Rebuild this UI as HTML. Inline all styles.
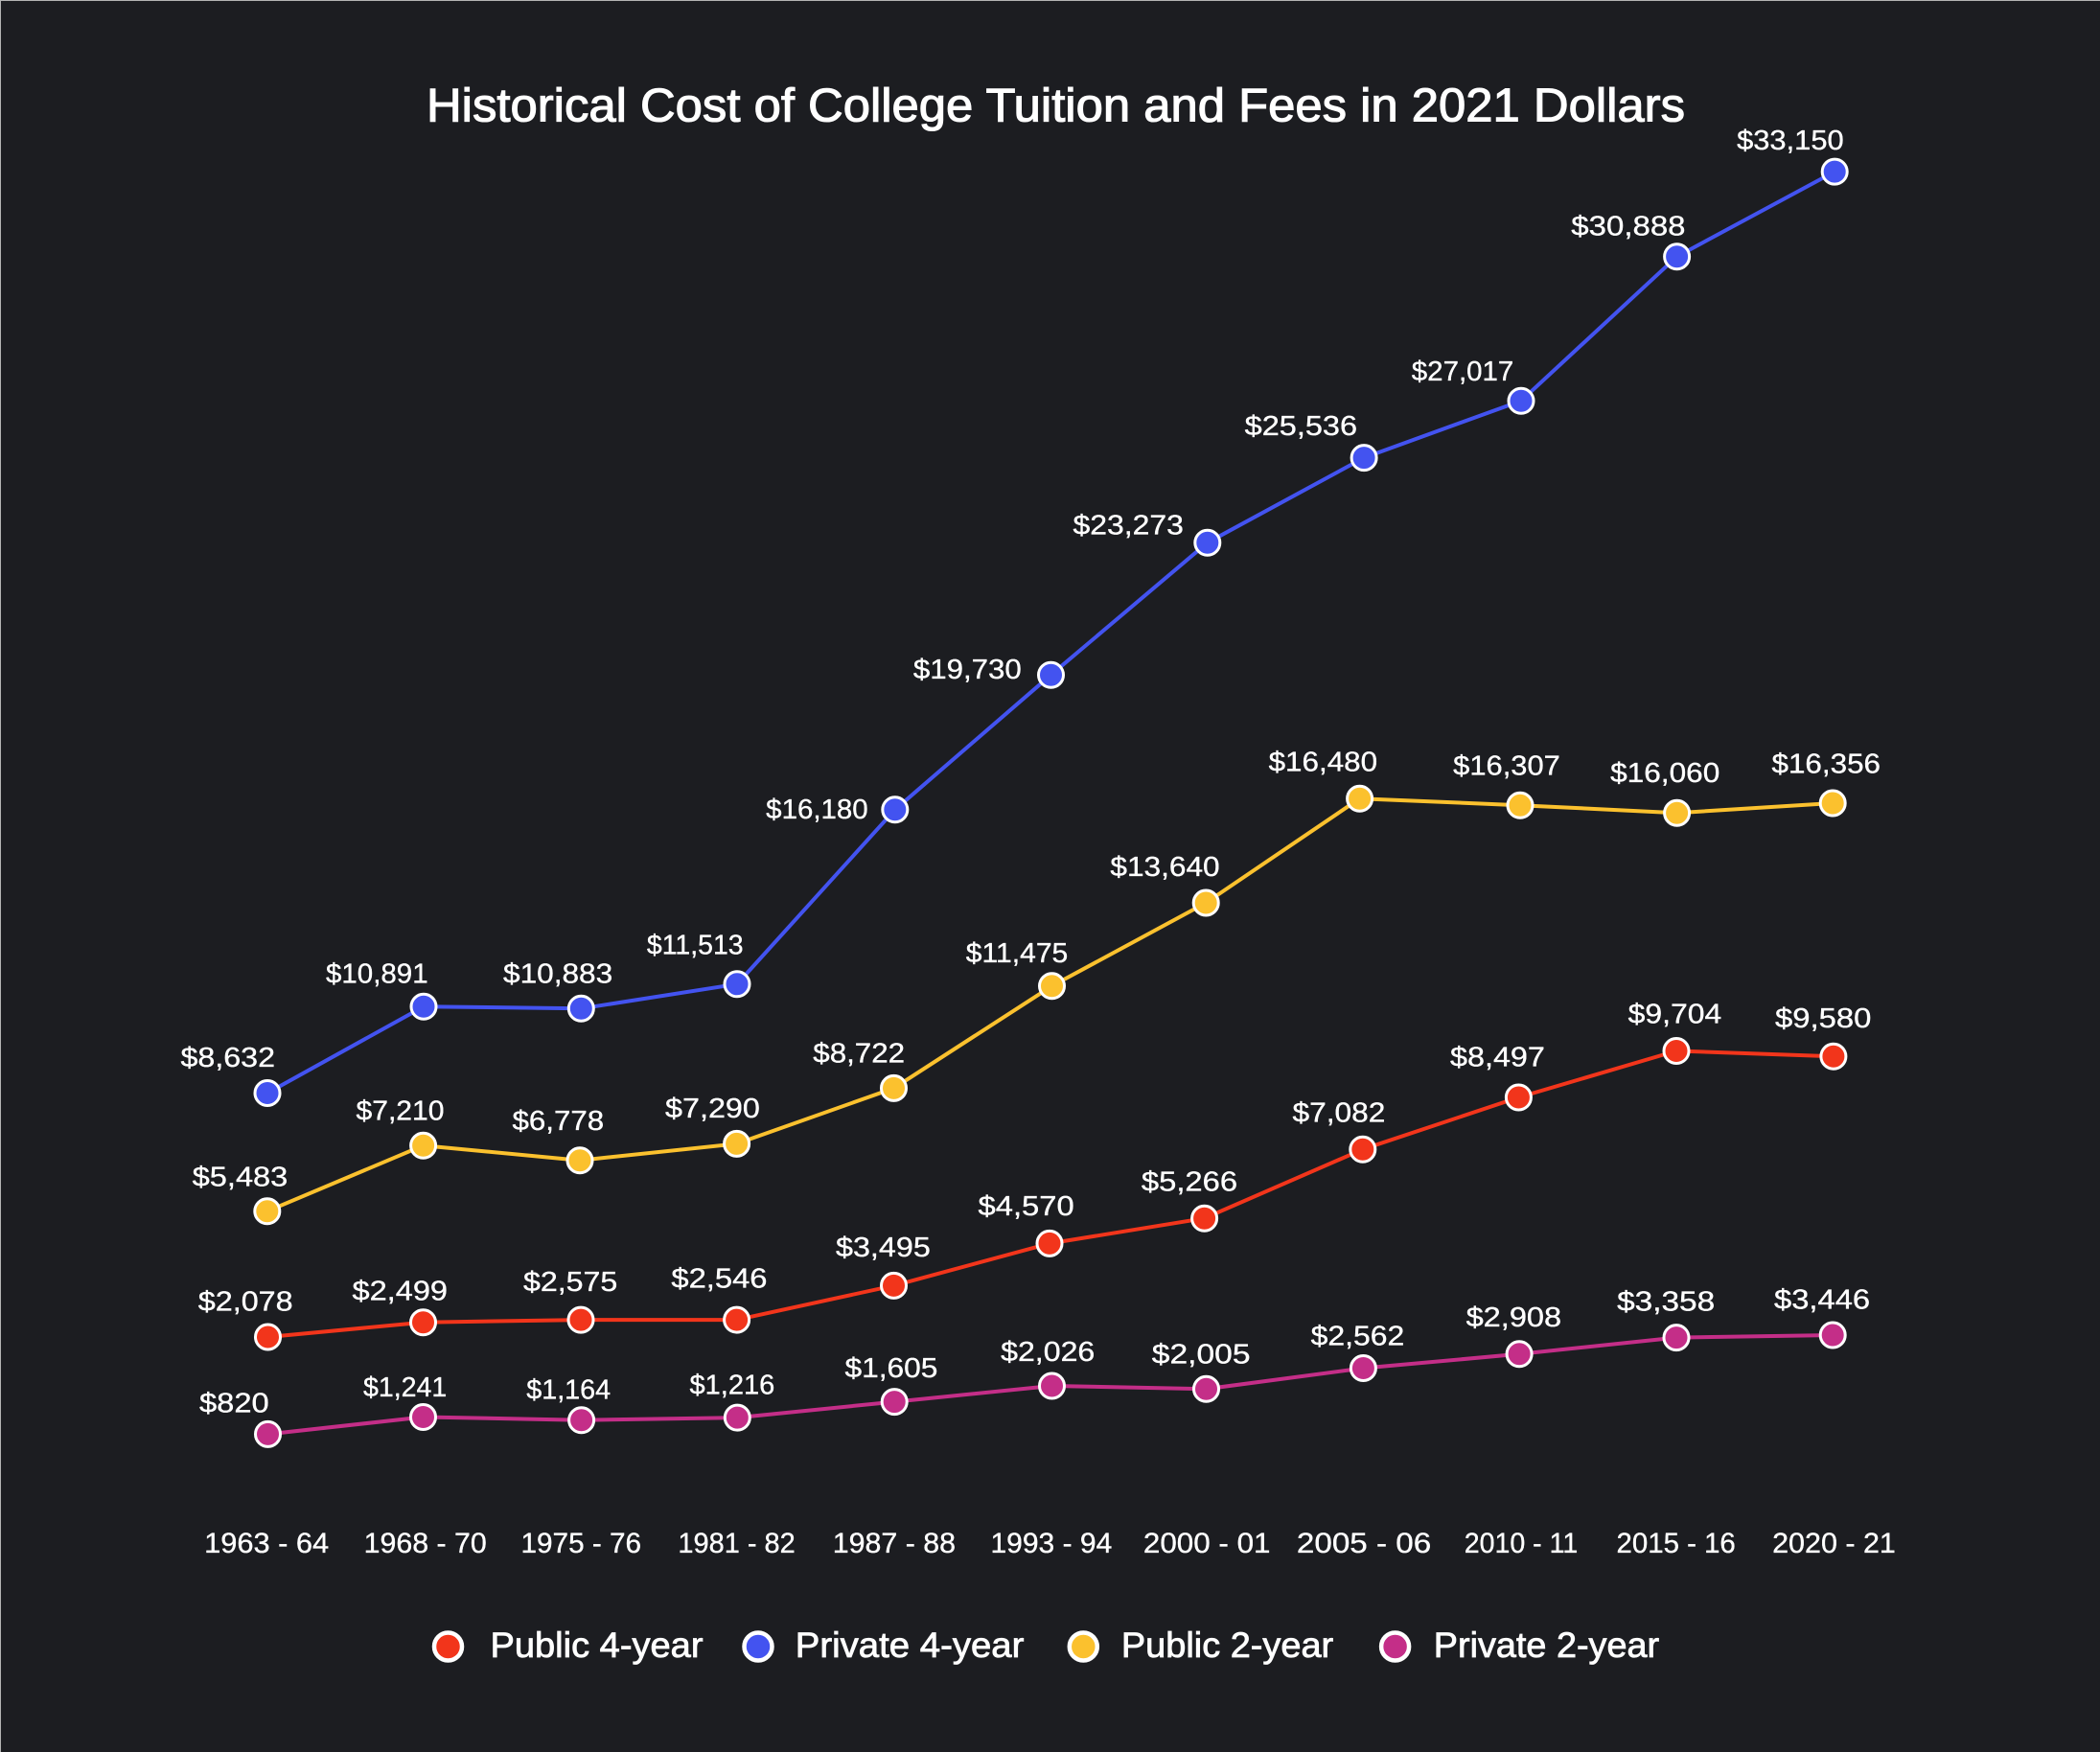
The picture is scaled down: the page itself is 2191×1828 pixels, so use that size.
<!DOCTYPE html>
<html>
<head>
<meta charset="utf-8">
<style>
html,body{margin:0;padding:0;background:#1c1d21;}
svg{display:block;}
text{font-family:"Liberation Sans",sans-serif;fill:#ffffff;}
.l{font-size:29px;}
.x{font-size:30px;}
.g{font-size:37px;}
</style>
</head>
<body>
<svg width="2191" height="1828" viewBox="0 0 2191 1828" xmlns="http://www.w3.org/2000/svg">
<rect x="0" y="0" width="2191" height="1828" fill="#1c1d21"/>
<line x1="0" y1="0.5" x2="2191" y2="0.5" stroke="#b4b4b4" stroke-width="1"/>
<line x1="0.5" y1="0" x2="0.5" y2="1828" stroke="#b4b4b4" stroke-width="1"/>

<text x="445" y="126.5" font-size="49" textLength="1313" lengthAdjust="spacingAndGlyphs" stroke="#ffffff" stroke-width="1.1">Historical Cost of College Tuition and Fees in 2021 Dollars</text>

<!-- lines -->
<g fill="none" stroke-width="4" stroke-linejoin="round">
<polyline stroke="#4353f0" points="279,1140.5 442,1050.2 606.3,1052.3 769,1026.8 933.8,844.8 1096.5,704.2 1259.8,566.2 1423.1,477.6 1587,418.2 1749.6,267.7 1914.2,179.1"/>
<polyline stroke="#fbc12e" points="278.8,1263.8 441.6,1195.2 605,1210.7 768.6,1193.4 932.5,1135.4 1097.5,1028.8 1258.2,942 1418.6,833.2 1586,840.2 1749.6,848.2 1912.2,838"/>
<polyline stroke="#f2351b" points="279.5,1395 441.5,1379.7 606,1377.1 768.6,1377.1 932.5,1341.4 1095,1297.4 1256.6,1271.2 1421.8,1199.2 1584.4,1145 1749,1096.5 1912.9,1102.2"/>
<polyline stroke="#c42e88" points="279.5,1496.4 441.5,1478.5 606.6,1481.7 769.3,1479.1 933.2,1462.6 1097.5,1446 1258.5,1449.2 1422.4,1427.5 1585.1,1412.8 1749,1395.6 1912.2,1393"/>
</g>

<!-- markers -->
<g stroke="#ffffff" stroke-width="3">
<g fill="#4353f0">
<circle cx="279" cy="1140.5" r="13"/><circle cx="442" cy="1050.2" r="13"/><circle cx="606.3" cy="1052.3" r="13"/><circle cx="769" cy="1026.8" r="13"/><circle cx="933.8" cy="844.8" r="13"/><circle cx="1096.5" cy="704.2" r="13"/><circle cx="1259.8" cy="566.2" r="13"/><circle cx="1423.1" cy="477.6" r="13"/><circle cx="1587" cy="418.2" r="13"/><circle cx="1749.6" cy="267.7" r="13"/><circle cx="1914.2" cy="179.1" r="13"/>
</g>
<g fill="#fbc12e">
<circle cx="278.8" cy="1263.8" r="13"/><circle cx="441.6" cy="1195.2" r="13"/><circle cx="605" cy="1210.7" r="13"/><circle cx="768.6" cy="1193.4" r="13"/><circle cx="932.5" cy="1135.4" r="13"/><circle cx="1097.5" cy="1028.8" r="13"/><circle cx="1258.2" cy="942" r="13"/><circle cx="1418.6" cy="833.2" r="13"/><circle cx="1586" cy="840.2" r="13"/><circle cx="1749.6" cy="848.2" r="13"/><circle cx="1912.2" cy="838" r="13"/>
</g>
<g fill="#f2351b">
<circle cx="279.5" cy="1395" r="13"/><circle cx="441.5" cy="1379.7" r="13"/><circle cx="606" cy="1377.1" r="13"/><circle cx="768.6" cy="1377.1" r="13"/><circle cx="932.5" cy="1341.4" r="13"/><circle cx="1095" cy="1297.4" r="13"/><circle cx="1256.6" cy="1271.2" r="13"/><circle cx="1421.8" cy="1199.2" r="13"/><circle cx="1584.4" cy="1145" r="13"/><circle cx="1749" cy="1096.5" r="13"/><circle cx="1912.9" cy="1102.2" r="13"/>
</g>
<g fill="#c42e88">
<circle cx="279.5" cy="1496.4" r="13"/><circle cx="441.5" cy="1478.5" r="13"/><circle cx="606.6" cy="1481.7" r="13"/><circle cx="769.3" cy="1479.1" r="13"/><circle cx="933.2" cy="1462.6" r="13"/><circle cx="1097.5" cy="1446" r="13"/><circle cx="1258.5" cy="1449.2" r="13"/><circle cx="1422.4" cy="1427.5" r="13"/><circle cx="1585.1" cy="1412.8" r="13"/><circle cx="1749" cy="1395.6" r="13"/><circle cx="1912.2" cy="1393" r="13"/>
</g>
</g>

<g stroke="#ffffff" stroke-width="0.35">
<!-- blue labels -->
<text x="188.5" y="1113" textLength="98.5" lengthAdjust="spacingAndGlyphs" class="l">$8,632</text>
<text x="340" y="1025.5" textLength="106.6" lengthAdjust="spacingAndGlyphs" class="l">$10,891</text>
<text x="525" y="1025.5" textLength="114.2" lengthAdjust="spacingAndGlyphs" class="l">$10,883</text>
<text x="674.9" y="995.6" textLength="100.7" lengthAdjust="spacingAndGlyphs" class="l">$11,513</text>
<text x="799.2" y="853.8" textLength="106.5" lengthAdjust="spacingAndGlyphs" class="l">$16,180</text>
<text x="952.9" y="707.8" textLength="112.9" lengthAdjust="spacingAndGlyphs" class="l">$19,730</text>
<text x="1119.5" y="557.3" textLength="115.4" lengthAdjust="spacingAndGlyphs" class="l">$23,273</text>
<text x="1298.7" y="454" textLength="117.3" lengthAdjust="spacingAndGlyphs" class="l">$25,536</text>
<text x="1472.8" y="397.2" textLength="106.5" lengthAdjust="spacingAndGlyphs" class="l">$27,017</text>
<text x="1639.3" y="245.4" textLength="119.2" lengthAdjust="spacingAndGlyphs" class="l">$30,888</text>
<text x="1812.1" y="156.1" textLength="111.6" lengthAdjust="spacingAndGlyphs" class="l">$33,150</text>

<!-- yellow labels -->
<text x="200.7" y="1237.5" textLength="99.6" lengthAdjust="spacingAndGlyphs" class="l">$5,483</text>
<text x="371.5" y="1168.5" textLength="92" lengthAdjust="spacingAndGlyphs" class="l">$7,210</text>
<text x="534.5" y="1179" textLength="95.6" lengthAdjust="spacingAndGlyphs" class="l">$6,778</text>
<text x="694" y="1166" textLength="98.9" lengthAdjust="spacingAndGlyphs" class="l">$7,290</text>
<text x="848.3" y="1108.6" textLength="95.7" lengthAdjust="spacingAndGlyphs" class="l">$8,722</text>
<text x="1007.8" y="1003.8" textLength="106.5" lengthAdjust="spacingAndGlyphs" class="l">$11,475</text>
<text x="1158.4" y="914" textLength="114.2" lengthAdjust="spacingAndGlyphs" class="l">$13,640</text>
<text x="1323.6" y="804.7" textLength="113.5" lengthAdjust="spacingAndGlyphs" class="l">$16,480</text>
<text x="1516.2" y="808.5" textLength="111.6" lengthAdjust="spacingAndGlyphs" class="l">$16,307</text>
<text x="1680.1" y="816.2" textLength="114.2" lengthAdjust="spacingAndGlyphs" class="l">$16,060</text>
<text x="1848.5" y="806.6" textLength="113.5" lengthAdjust="spacingAndGlyphs" class="l">$16,356</text>

<!-- red labels -->
<text x="206.8" y="1367.5" textLength="98.8" lengthAdjust="spacingAndGlyphs" class="l">$2,078</text>
<text x="367.5" y="1356.7" textLength="99.5" lengthAdjust="spacingAndGlyphs" class="l">$2,499</text>
<text x="546" y="1347.1" textLength="98.3" lengthAdjust="spacingAndGlyphs" class="l">$2,575</text>
<text x="700.4" y="1343.3" textLength="100.1" lengthAdjust="spacingAndGlyphs" class="l">$2,546</text>
<text x="872" y="1310.8" textLength="98.8" lengthAdjust="spacingAndGlyphs" class="l">$3,495</text>
<text x="1020.5" y="1268" textLength="100.2" lengthAdjust="spacingAndGlyphs" class="l">$4,570</text>
<text x="1190.9" y="1242.5" textLength="100.2" lengthAdjust="spacingAndGlyphs" class="l">$5,266</text>
<text x="1348.5" y="1170.5" textLength="96.9" lengthAdjust="spacingAndGlyphs" class="l">$7,082</text>
<text x="1513" y="1112.4" textLength="98.9" lengthAdjust="spacingAndGlyphs" class="l">$8,497</text>
<text x="1698.6" y="1067.6" textLength="97.6" lengthAdjust="spacingAndGlyphs" class="l">$9,704</text>
<text x="1852" y="1071.8" textLength="100.4" lengthAdjust="spacingAndGlyphs" class="l">$9,580</text>

<!-- magenta labels -->
<text x="208" y="1473.4" textLength="72.7" lengthAdjust="spacingAndGlyphs" class="l">$820</text>
<text x="379" y="1456.8" textLength="87.3" lengthAdjust="spacingAndGlyphs" class="l">$1,241</text>
<text x="549.2" y="1459.4" textLength="88" lengthAdjust="spacingAndGlyphs" class="l">$1,164</text>
<text x="719.5" y="1454.3" textLength="88.7" lengthAdjust="spacingAndGlyphs" class="l">$1,216</text>
<text x="881.5" y="1437" textLength="96.9" lengthAdjust="spacingAndGlyphs" class="l">$1,605</text>
<text x="1044.1" y="1419.8" textLength="98.2" lengthAdjust="spacingAndGlyphs" class="l">$2,026</text>
<text x="1201.8" y="1422.4" textLength="102.7" lengthAdjust="spacingAndGlyphs" class="l">$2,005</text>
<text x="1367.6" y="1403.3" textLength="97.6" lengthAdjust="spacingAndGlyphs" class="l">$2,562</text>
<text x="1529.6" y="1384.1" textLength="99.5" lengthAdjust="spacingAndGlyphs" class="l">$2,908</text>
<text x="1687.1" y="1367.5" textLength="102.1" lengthAdjust="spacingAndGlyphs" class="l">$3,358</text>
<text x="1851" y="1365.6" textLength="100.1" lengthAdjust="spacingAndGlyphs" class="l">$3,446</text>

<!-- x axis labels -->
<text x="213.1" y="1620" textLength="130.1" lengthAdjust="spacingAndGlyphs" class="x">1963 - 64</text>
<text x="379.6" y="1620" textLength="128.2" lengthAdjust="spacingAndGlyphs" class="x">1968 - 70</text>
<text x="543.5" y="1620" textLength="125.6" lengthAdjust="spacingAndGlyphs" class="x">1975 - 76</text>
<text x="707.4" y="1620" textLength="122.4" lengthAdjust="spacingAndGlyphs" class="x">1981 - 82</text>
<text x="868.8" y="1620" textLength="128.2" lengthAdjust="spacingAndGlyphs" class="x">1987 - 88</text>
<text x="1033.5" y="1620" textLength="126.8" lengthAdjust="spacingAndGlyphs" class="x">1993 - 94</text>
<text x="1192.9" y="1620" textLength="132.6" lengthAdjust="spacingAndGlyphs" class="x">2000 - 01</text>
<text x="1352.9" y="1620" textLength="140.3" lengthAdjust="spacingAndGlyphs" class="x">2005 - 06</text>
<text x="1527.7" y="1620" textLength="118.6" lengthAdjust="spacingAndGlyphs" class="x">2010 - 11</text>
<text x="1686.5" y="1620" textLength="124.3" lengthAdjust="spacingAndGlyphs" class="x">2015 - 16</text>
<text x="1849.1" y="1620" textLength="128.8" lengthAdjust="spacingAndGlyphs" class="x">2020 - 21</text>
</g>

<!-- legend -->
<g stroke="#ffffff" stroke-width="4.5">
<circle cx="467.5" cy="1718" r="14.5" fill="#f2351b"/>
<circle cx="791" cy="1718" r="14.5" fill="#4353f0"/>
<circle cx="1130.3" cy="1718" r="14.5" fill="#fbc12e"/>
<circle cx="1455.6" cy="1718" r="14.5" fill="#c42e88"/>
</g>
<g stroke="#ffffff" stroke-width="0.8">
<text x="511.5" y="1729" textLength="222" lengthAdjust="spacingAndGlyphs" class="g">Public 4-year</text>
<text x="829.8" y="1729" textLength="238.6" lengthAdjust="spacingAndGlyphs" class="g">Private 4-year</text>
<text x="1169.9" y="1729" textLength="221.3" lengthAdjust="spacingAndGlyphs" class="g">Public 2-year</text>
<text x="1495.8" y="1729" textLength="235.3" lengthAdjust="spacingAndGlyphs" class="g">Private 2-year</text>
</g>
</svg>
</body>
</html>
